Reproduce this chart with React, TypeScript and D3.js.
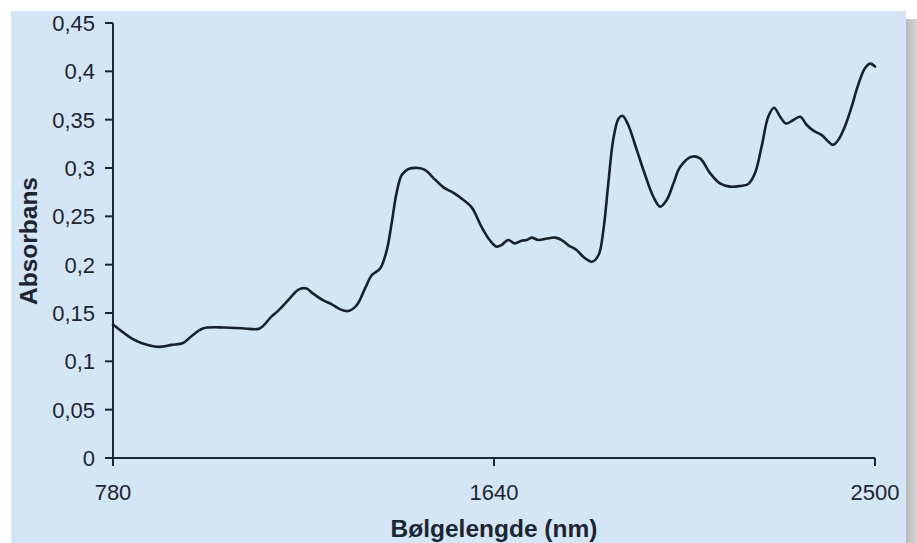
import React, { useRef, useEffect } from 'react';
import * as d3 from 'd3';

// wavelength (nm)
const wavelengths = [
  780, 821, 844, 882, 912, 938, 957, 983, 1032, 1077, 1111, 1137, 1152, 1175, 1198, 1215,
  1232, 1255, 1274, 1292, 1311, 1330, 1349, 1364, 1383, 1398, 1409, 1420, 1432, 1447, 1469,
  1484, 1507, 1526, 1548, 1571, 1590, 1612, 1631, 1646, 1657, 1672, 1687, 1702, 1714, 1725,
  1740, 1759, 1778, 1793, 1808, 1827, 1842, 1861, 1876, 1887, 1898, 1909, 1921, 1930, 1943,
  1962, 1981, 2000, 2015, 2030, 2045, 2060, 2086, 2105, 2128, 2150, 2173, 2195, 2214, 2229,
  2244, 2259, 2272, 2286, 2299, 2316, 2331, 2346, 2361, 2380, 2391, 2405, 2417, 2432, 2447,
  2462, 2477, 2489, 2500,
];

// absorbance at each wavelength
const absorbans = [
  0.138, 0.124, 0.119, 0.115, 0.117, 0.119, 0.126, 0.134, 0.135, 0.134, 0.134, 0.146, 0.152,
  0.163, 0.174, 0.1755, 0.170, 0.163, 0.159, 0.154, 0.152, 0.158, 0.1755, 0.189, 0.196, 0.215,
  0.243, 0.274, 0.293, 0.299, 0.300, 0.298, 0.288, 0.280, 0.2745, 0.267, 0.259, 0.239, 0.225,
  0.2186, 0.2203, 0.2255, 0.222, 0.2248, 0.2255, 0.228, 0.2255, 0.227, 0.228, 0.2255, 0.220,
  0.215, 0.208, 0.203, 0.210, 0.236, 0.284, 0.329, 0.351, 0.354, 0.3445, 0.319, 0.293, 0.270,
  0.260, 0.267, 0.284, 0.301, 0.3117, 0.310, 0.2945, 0.284, 0.2807, 0.2814, 0.2834, 0.2945,
  0.322, 0.353, 0.3624, 0.353, 0.346, 0.3497, 0.353, 0.3445, 0.3386, 0.334, 0.329, 0.324,
  0.329, 0.343, 0.363, 0.386, 0.403, 0.408, 0.405,
];

const yTicks = [0, 0.05, 0.1, 0.15, 0.2, 0.25, 0.3, 0.35, 0.4, 0.45];
const xTicks = [780, 1640, 2500];

const width = 917;
const height = 543;

const App = () => {
  const svgRef = useRef(null);

  useEffect(() => {
    const svg = d3.select(svgRef.current);
    svg.selectAll('*').remove();

    const left = 113, right = 875, top = 23, bottom = 458;
    const ink = '#1b2533';
    const font = "'Liberation Sans', Arial, sans-serif";

    const x = d3.scaleLinear().domain([780, 2500]).range([left, right]);
    const y = d3.scaleLinear().domain([0, 0.45]).range([bottom, top]);

    // drop shadow on the right edge
    const defs = svg.append('defs');
    const grad = defs.append('linearGradient').attr('id', 'shade').attr('x1', 0).attr('x2', 1);
    grad.append('stop').attr('offset', 0).attr('stop-color', '#b9b9b9');
    grad.append('stop').attr('offset', 1).attr('stop-color', '#d6d6d6');

    svg.append('rect').attr('width', width).attr('height', height).attr('fill', '#ffffff');
    svg.append('rect')
      .attr('x', 906).attr('y', 19).attr('width', 11).attr('height', height - 19)
      .attr('fill', 'url(#shade)');
    svg.append('rect')
      .attr('x', 11).attr('y', 11).attr('width', 895).attr('height', height - 11)
      .attr('fill', '#d4e6f5');

    const g = svg.append('g');

    // y axis
    g.append('line')
      .attr('x1', left).attr('x2', left).attr('y1', top).attr('y2', bottom + 8)
      .attr('stroke', ink).attr('stroke-width', 2);
    g.selectAll('.ytick')
      .data(yTicks)
      .enter()
      .append('line')
      .attr('x1', left - 8).attr('x2', left)
      .attr('y1', d => y(d)).attr('y2', d => y(d))
      .attr('stroke', ink).attr('stroke-width', 2);
    g.selectAll('.ylab')
      .data(yTicks)
      .enter()
      .append('text')
      .attr('x', left - 18)
      .attr('y', d => y(d))
      .attr('dy', '0.36em')
      .attr('text-anchor', 'end')
      .attr('font-family', font)
      .attr('font-size', 22)
      .attr('fill', ink)
      .text(d => String(d).replace('.', ','));

    // x axis
    g.append('line')
      .attr('x1', left).attr('x2', right).attr('y1', bottom).attr('y2', bottom)
      .attr('stroke', ink).attr('stroke-width', 2);
    g.selectAll('.xtick')
      .data(xTicks)
      .enter()
      .append('line')
      .attr('x1', d => x(d)).attr('x2', d => x(d))
      .attr('y1', bottom).attr('y2', bottom + 8)
      .attr('stroke', ink).attr('stroke-width', 2);
    g.selectAll('.xlab')
      .data(xTicks)
      .enter()
      .append('text')
      .attr('x', d => x(d))
      .attr('y', 500)
      .attr('text-anchor', 'middle')
      .attr('font-family', font)
      .attr('font-size', 22)
      .attr('fill', ink)
      .text(d => d);

    // axis titles
    svg.append('text')
      .attr('x', 494).attr('y', 537)
      .attr('text-anchor', 'middle')
      .attr('font-family', font)
      .attr('font-size', 24.5)
      .attr('font-weight', 'bold')
      .attr('fill', ink)
      .text('Bølgelengde (nm)');
    svg.append('text')
      .attr('transform', 'translate(37,241) rotate(-90)')
      .attr('text-anchor', 'middle')
      .attr('font-family', font)
      .attr('font-size', 24.5)
      .attr('font-weight', 'bold')
      .attr('fill', ink)
      .text('Absorbans');

    // spectrum
    const points = wavelengths.map((w, i) => [w, absorbans[i]]);
    const line = d3.line()
      .x(d => x(d[0]))
      .y(d => y(d[1]))
      .curve(d3.curveCatmullRom.alpha(0.5));
    g.append('path')
      .datum(points)
      .attr('d', line)
      .attr('fill', 'none')
      .attr('stroke', '#17202c')
      .attr('stroke-width', 2.6)
      .attr('stroke-linejoin', 'round')
      .attr('stroke-linecap', 'round');
  }, []);

  return (
    <svg
      ref={svgRef}
      width={width}
      height={height}
      style={{ position: 'absolute', left: 0, top: 0 }}
    ></svg>
  );
};

export default App;
